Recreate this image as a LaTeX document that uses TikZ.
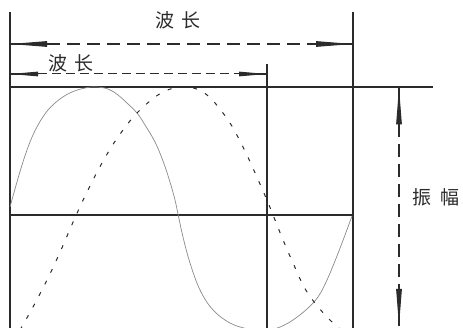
\documentclass[tikz,border=0pt]{standalone}
\usepackage{fontspec}
\newfontfamily\cjk{Noto Sans CJK SC}
\usetikzlibrary{arrows.meta}
\definecolor{ink}{HTML}{2B2B2B}
\definecolor{curve}{HTML}{8A8A8A}
\begin{document}
\begin{tikzpicture}[x=1pt,y=-1pt,
  frame/.style={draw=ink,line width=1.1pt},
  core/.style={draw=ink,line width=1.4pt},
  dimarrow/.style={draw=ink,line width=1.1pt,dash pattern=on 13pt off 7pt,
     {Triangle[length=37pt,width=5.5pt]}-{Triangle[length=37pt,width=5.5pt]}},
  dimarrowsmall/.style={draw=ink,line width=1pt,dash pattern=on 9pt off 5pt,
     {Triangle[length=28pt,width=4.5pt]}-{Triangle[length=28pt,width=4.5pt]}},
  lbl/.style={font=\cjk\fontsize{19}{19}\selectfont,text=ink,inner sep=0pt},
  solidwave/.style={draw=curve,line width=0.7pt},
  dashwave/.style={draw=ink,line width=1pt,dash pattern=on 4pt off 9pt}
]
\useasboundingbox (0,0) rectangle (463,328);
\clip (0,0) rectangle (463,328);
% frame coordinates
\coordinate (LT) at (10,12);
\coordinate (LB) at (10,330);
\coordinate (RT) at (353,12);
\coordinate (RB) at (353,330);
\coordinate (MT) at (267,64);
\coordinate (MB) at (267,330);
\coordinate (HL) at (10,87);
\coordinate (HR) at (433,87);
\coordinate (ML) at (10,215);
\coordinate (MR) at (353,215);
\draw[frame] (LT) -- (LB);
\draw[frame] (RT) -- (RB);
\draw[frame] (MT) -- (MB);
\draw[frame] (HL) -- (HR);
\draw[frame] (ML) -- (MR);
% wavelength arrows
\coordinate (A1L) at (10,44);
\coordinate (A1R) at (353,44);
\draw[dimarrow] (A1L) -- (A1R);
\draw[core] (A1L) -- ++(30,0);
\draw[core] (A1R) -- ++(-30,0);
\coordinate (A2L) at (10,74);
\coordinate (A2R) at (267,74);
\draw[dimarrowsmall] (A2L) -- (A2R);
\draw[core,line width=1.2pt] (A2L) -- ++(22,0);
\draw[core,line width=1.2pt] (A2R) -- ++(-22,0);
% amplitude arrow
\coordinate (AT) at (399,87.5);
\coordinate (AB) at (399,326);
\draw[dimarrow] (AT) -- (AB);
\draw[core] (AT) -- ++(0,30);
\draw[core] (AB) -- ++(0,-30);
% labels
\node[lbl] (l1) at (178,20) {波\hspace{0.35em}长};
\node[lbl] (l2) at (71,63) {波\hspace{0.35em}长};
\node[lbl] (l3) at (436,197) {振\hspace{0.45em}幅};
% solid wave
\draw[solidwave] plot[smooth,tension=0.6] coordinates {
 (10,207) (15,189) (22,165) (30,142) (38,125) (48,110) (60,99) (72,92) (85,88) (96,87)
 (108,89) (118,95) (128,104) (137,113) (145,125) (155,142) (163,161) (170,182) (175,200)
 (178,214) (183,237) (190,263) (200,290) (213,310) (230,323) (248,329) (265,331)
 (280,327) (293,320) (307,309) (318,297) (327,280) (337,256) (345,235) (352,216)};
% dashed wave
\draw[dashwave] plot[smooth,tension=0.6] coordinates {
 (20,330) (33,307) (48,278) (61,250) (74,220) (87,192) (102,163) (118,137) (138,112)
 (163,92) (187,87) (207,95) (228,120) (243,147) (256,175) (269,205) (281,235) (293,263)
 (307,292) (327,317) (345,333)};
\end{tikzpicture}
\end{document}
